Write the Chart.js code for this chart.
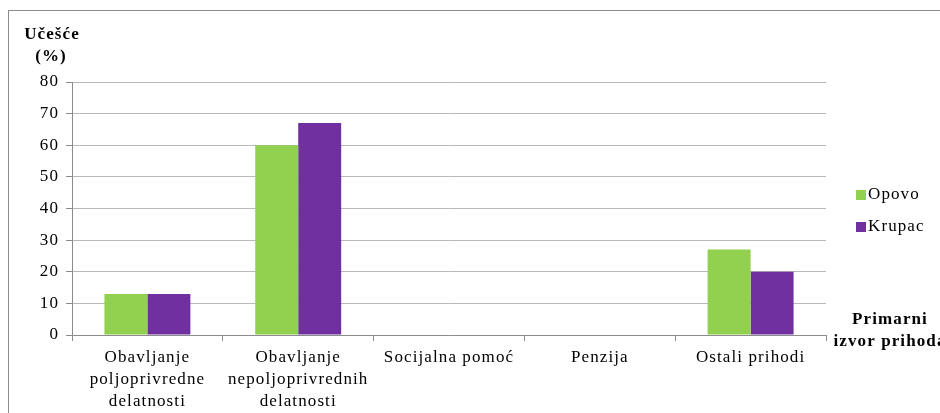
<!DOCTYPE html>
<html>
<head>
<meta charset="utf-8">
<script src="https://cdn.jsdelivr.net/npm/chart.js@4"></script>
<style>
  body { margin: 0; background: #fff; }
  #wrap { width: 940px; height: 413px; }
</style>
</head>
<body>
<div id="wrap"><canvas id="myChart" width="940" height="413"></canvas></div>
<script>
const categories = [
  ["Obavljanje", "poljoprivredne", "delatnosti"],
  ["Obavljanje", "nepoljoprivrednih", "delatnosti"],
  "Socijalna pomoć",
  "Penzija",
  "Ostali prihodi"
];
const opovo = [13, 60, 0, 0, 27];
const krupac = [13, 67, 0, 0, 20];
const yTicks = [0, 10, 20, 30, 40, 50, 60, 70, 80];

const serif = "'Liberation Serif', 'DejaVu Serif', serif";

// the original text is set wide, so spread letters on the whole canvas
const spacing = {
  id: "spacing",
  beforeDraw(chart) {
    chart.ctx.letterSpacing = "1.1px";
  }
};

// titles, legend and outer frame drawn on the canvas
const extras = {
  id: "extras",
  afterDraw(chart) {
    const ctx = chart.ctx;
    ctx.save();
    ctx.letterSpacing = "1.1px";
    ctx.strokeStyle = "#8c8c8c";
    ctx.lineWidth = 1;
    ctx.strokeRect(8.5, 10.5, 960, 420);

    ctx.fillStyle = "#000";
    ctx.font = "bold 17px " + serif;
    ctx.textAlign = "center";
    ctx.textBaseline = "middle";
    ctx.fillText("Učešće", 52, 35);
    ctx.fillText("(%)", 51, 57);
    ctx.fillText("Primarni", 890, 320);
    ctx.fillText("izvor prihoda", 890, 342);

    ctx.font = "17px " + serif;
    ctx.textAlign = "left";
    chart.data.datasets.forEach((ds, i) => {
      const y = 195 + i * 32;
      ctx.fillStyle = ds.backgroundColor;
      ctx.fillRect(856, y - 5, 10, 10);
      ctx.fillStyle = "#000";
      ctx.fillText(ds.label, 868, y);
    });
    ctx.restore();
  }
};

new Chart(document.getElementById("myChart").getContext("2d"), {
  type: "bar",
  data: {
    labels: categories,
    datasets: [
      { label: "Opovo", data: opovo, backgroundColor: "#92D050" },
      { label: "Krupac", data: krupac, backgroundColor: "#7030A0" }
    ]
  },
  options: {
    responsive: false,
    animation: false,
    layout: { padding: { left: 0, right: 114, top: 82, bottom: 0 } },
    plugins: { legend: { display: false }, tooltip: { enabled: false } },
    datasets: { bar: { categoryPercentage: 0.57, barPercentage: 1 } },
    scales: {
      x: {
        afterFit: (s) => { s.height = 78; },
        grid: { drawOnChartArea: false, color: "#8c8c8c", tickLength: 6 },
        border: { color: "#8c8c8c" },
        ticks: { color: "#000", padding: 6, font: { family: serif, size: 17, lineHeight: 1.28 }, maxRotation: 0, autoSkip: false }
      },
      y: {
        min: 0,
        max: 80,
        afterFit: (s) => { s.width = 72; },
        afterBuildTicks: (s) => { s.ticks = yTicks.map((v) => ({ value: v })); },
        grid: { color: "#b8b8b8", tickLength: 6, tickColor: "#8c8c8c" },
        border: { color: "#8c8c8c" },
        ticks: { color: "#000", padding: 7, font: { family: serif, size: 17 } }
      }
    }
  },
  plugins: [spacing, extras]
});
</script>
</body>
</html>
